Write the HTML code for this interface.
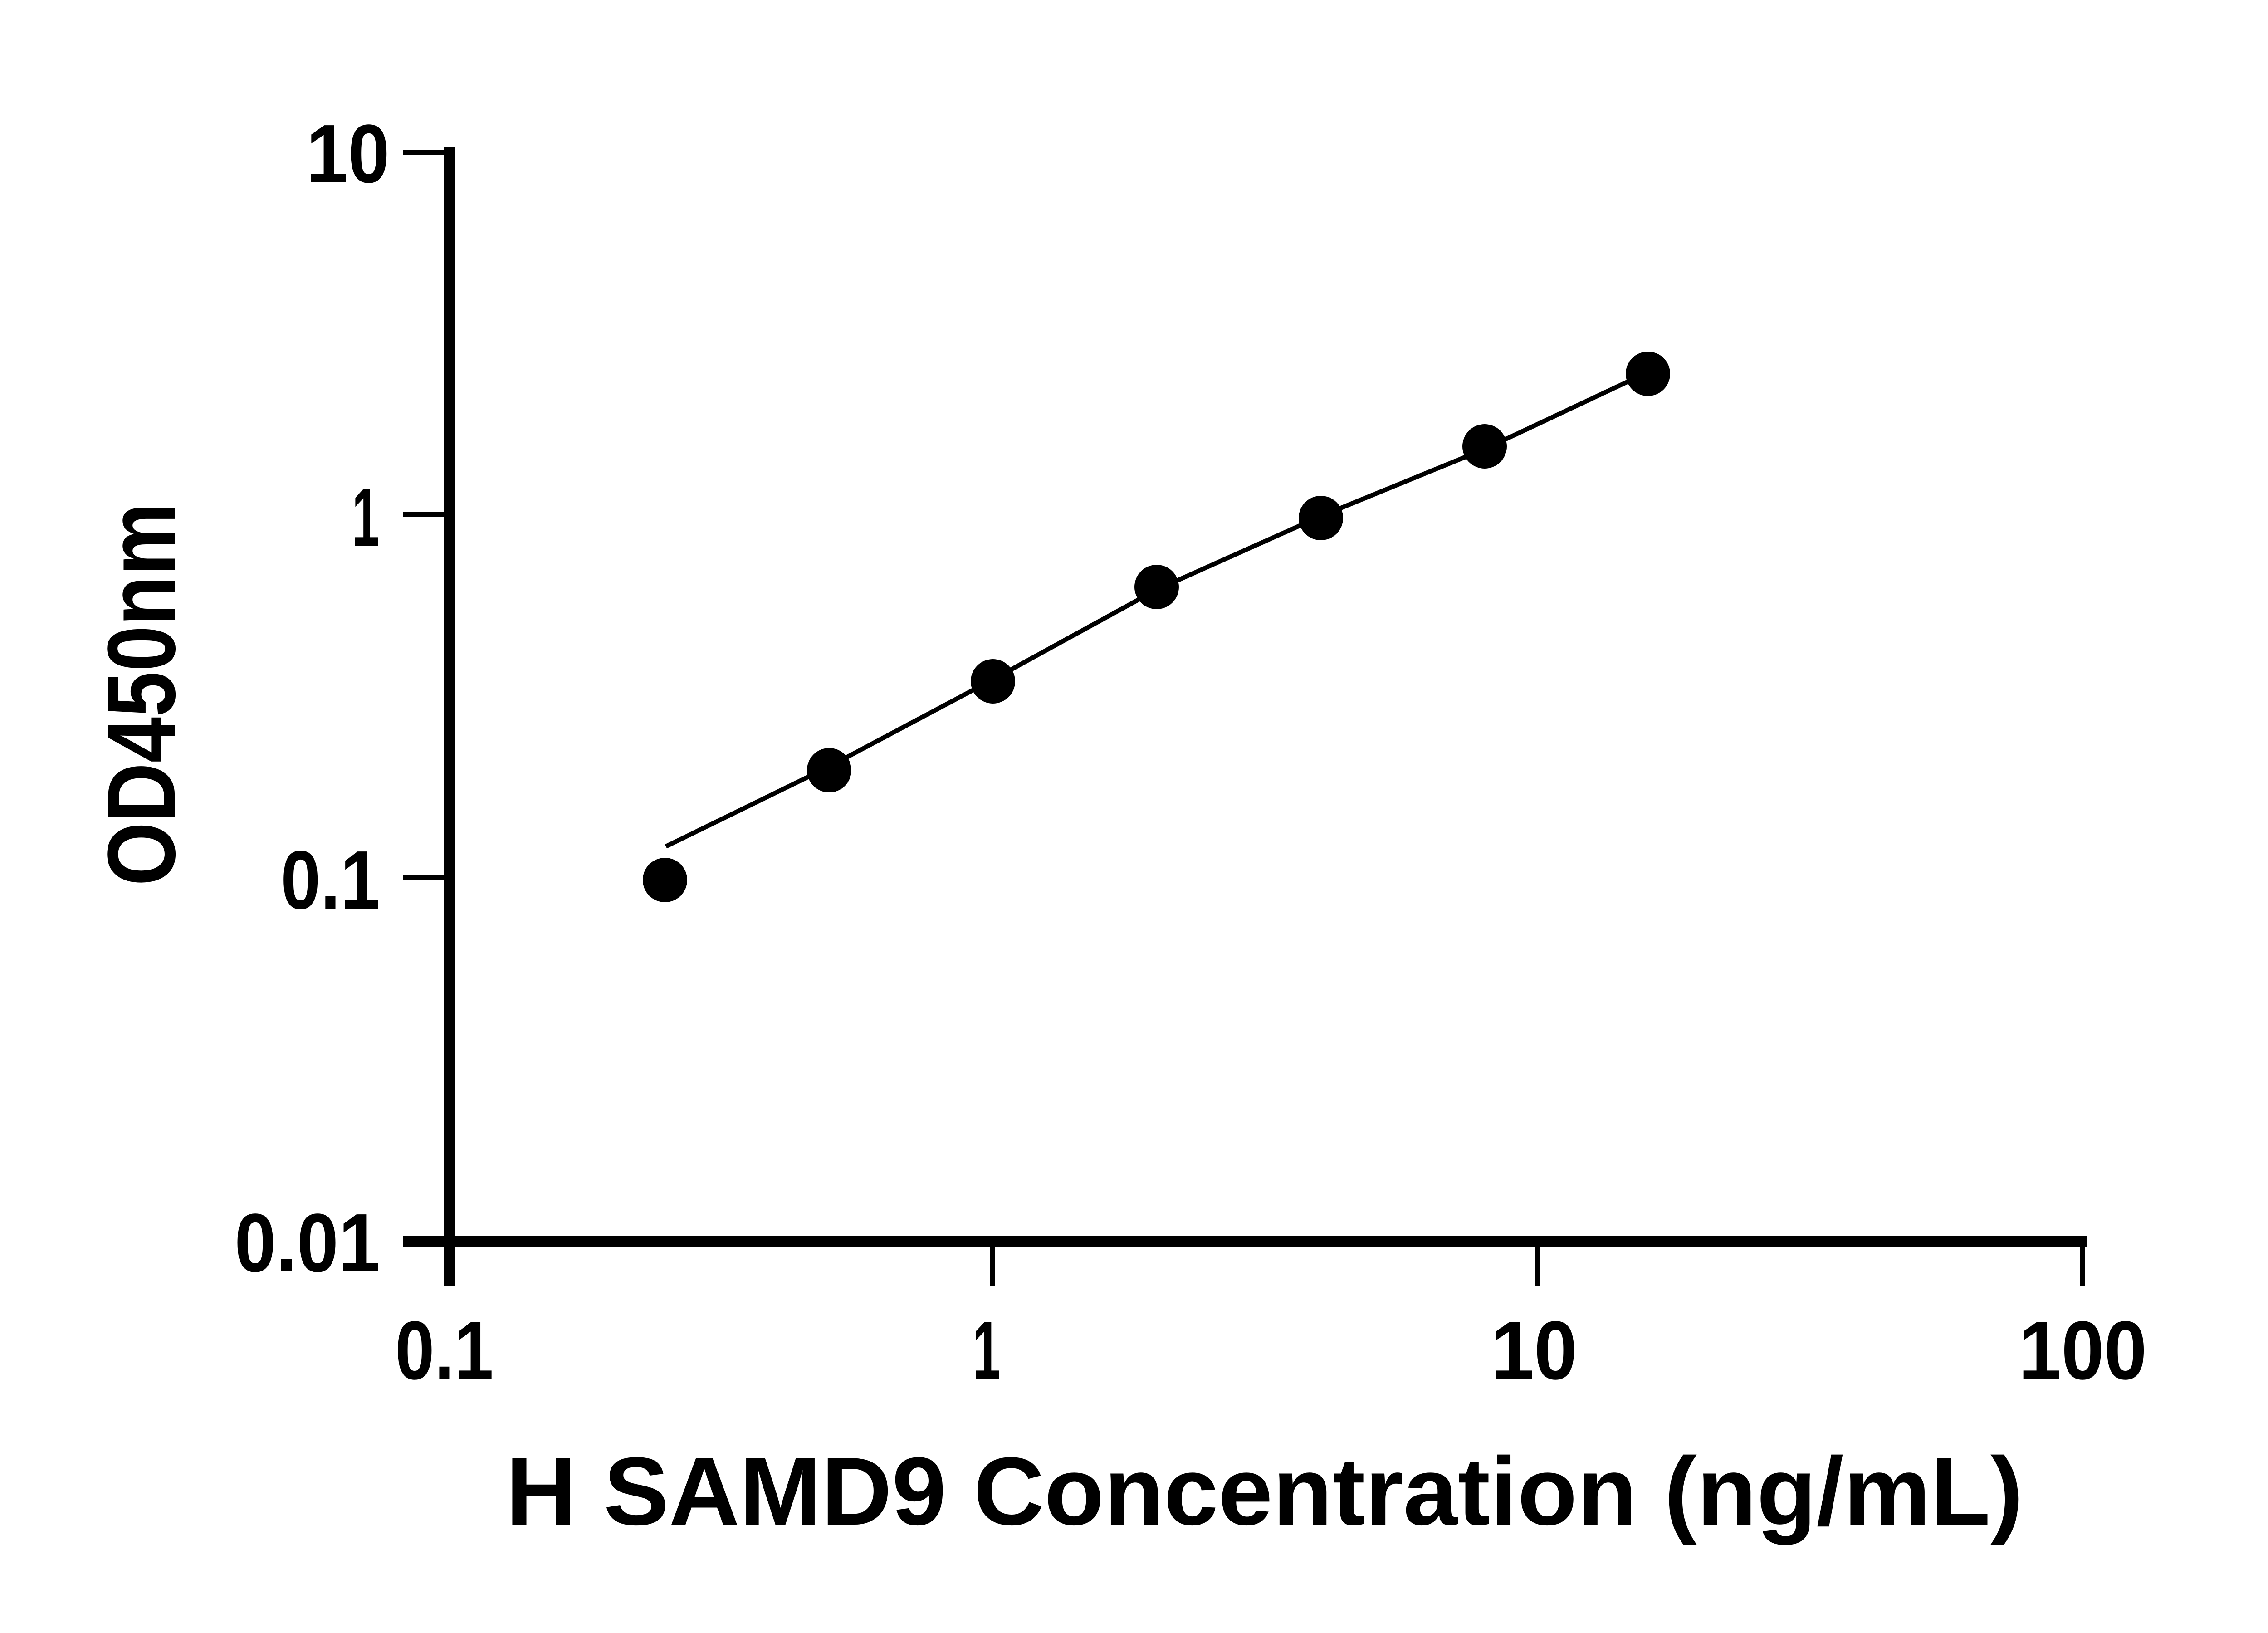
<!DOCTYPE html>
<html><head><meta charset="utf-8"><style>html,body{margin:0;padding:0;background:#fff}svg{display:block}</style></head>
<body>
<svg xmlns="http://www.w3.org/2000/svg" width="5142" height="3600" viewBox="0 0 5142 3600">
<rect width="5142" height="3600" fill="#fff"/>
<g fill="none" stroke="#000">
<line x1="990" y1="324" x2="990" y2="2836" stroke-width="24"/>
<line x1="889" y1="2736" x2="4600" y2="2736" stroke-width="24"/>
<g stroke-width="12">
<line x1="888" y1="336" x2="990" y2="336"/>
<line x1="888" y1="1134" x2="990" y2="1134"/>
<line x1="888" y1="1934" x2="990" y2="1934"/>
<line x1="888" y1="2734" x2="990" y2="2734"/>
<line x1="2188" y1="2736" x2="2188" y2="2836"/>
<line x1="3389" y1="2736" x2="3389" y2="2836"/>
<line x1="4591" y1="2724" x2="4591" y2="2836"/>
</g>
<polyline stroke-width="10" points="1468,1866 1828,1690 2189,1498 2550,1300 2912,1138 3273,990 3600,836"/>
</g>
<g fill="#000">
<circle cx="1466" cy="1940" r="49"/>
<circle cx="1828" cy="1698" r="49"/>
<circle cx="2189" cy="1502" r="49"/>
<circle cx="2550" cy="1294" r="49"/>
<circle cx="2912" cy="1142" r="49"/>
<circle cx="3273" cy="984" r="49"/>
<circle cx="3633" cy="824" r="49"/>
</g>
<g font-family="Liberation Sans, Arial, sans-serif" font-weight="bold" fill="#000">
<g font-size="183">
<text x="675" y="402" textLength="184" lengthAdjust="spacingAndGlyphs">10</text>
<text x="776" y="1203" textLength="60" lengthAdjust="spacingAndGlyphs">1</text>
<text x="619" y="2003" textLength="219" lengthAdjust="spacingAndGlyphs">0.1</text>
<text x="517" y="2803" textLength="321" lengthAdjust="spacingAndGlyphs">0.01</text>
<text x="871" y="3040" textLength="217" lengthAdjust="spacingAndGlyphs">0.1</text>
<text x="2144" y="3040" textLength="62" lengthAdjust="spacingAndGlyphs">1</text>
<text x="3287" y="3040" textLength="190" lengthAdjust="spacingAndGlyphs">10</text>
<text x="4450" y="3040" textLength="283" lengthAdjust="spacingAndGlyphs">100</text>
</g>
<text x="1115" y="3361" font-size="213" textLength="3345" lengthAdjust="spacingAndGlyphs">H SAMD9 Concentration (ng/mL)</text>
<text transform="translate(385,1953) rotate(-90)" x="0" y="0" font-size="213" textLength="845" lengthAdjust="spacingAndGlyphs">OD450nm</text>
</g>
</svg>
</body></html>
